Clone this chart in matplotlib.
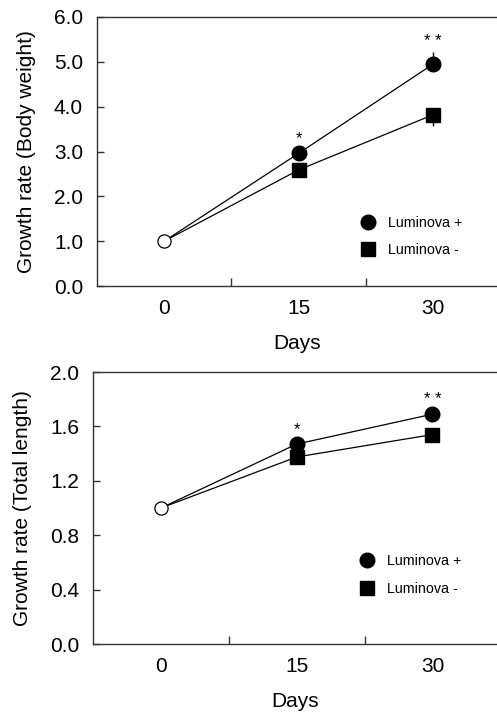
import matplotlib
matplotlib.use("Agg")
import matplotlib.pyplot as plt
from matplotlib.lines import Line2D

plt.rcParams['font.family'] = ['Liberation Sans', 'DejaVu Sans']

days = ["0", "15", "30"]

# Body weight growth rate
bw_lum_plus = [1.0, 2.96, 4.95]
bw_lum_minus = [1.0, 2.59, 3.82]
bw_plus_err_up = [0.0, 0.10, 0.28]
bw_minus_err_down = [0.0, 0.10, 0.26]
bw_stars = ["", "*", "**"]

# Total length growth rate
tl_lum_plus = [1.0, 1.47, 1.69]
tl_lum_minus = [1.0, 1.375, 1.54]
tl_plus_err_up = [0.0, 0.03, 0.03]
tl_minus_err_down = [0.0, 0.03, 0.03]
tl_stars = ["", "*", "**"]

W, H = 497, 712
fig = plt.figure(figsize=(W / 100, H / 100), dpi=100)

FS = 15


def make_panel(rect, plus, minus, up, down, stars, ylim, yticks, ylabel, star_off, leg_anchor, xpad, xlabpad):
    ax = fig.add_axes(rect)
    x = list(range(len(days)))
    ax.set_xlim(-0.5, 2.475)
    ax.set_ylim(*ylim)
    # error bars
    ax.errorbar(x[1:], plus[1:], yerr=[[0] * 2, up[1:]], fmt='none', ecolor='black', elinewidth=1, capsize=0, zorder=2)
    ax.errorbar(x[1:], minus[1:], yerr=[down[1:], [0] * 2], fmt='none', ecolor='black', elinewidth=1, capsize=0, zorder=2)
    # lines
    ax.plot(x, plus, color='black', lw=0.9, zorder=3)
    ax.plot(x, minus, color='black', lw=0.9, zorder=3)
    ax.plot(x[1:], plus[1:], 'o', color='black', ms=10.5, zorder=4)
    ax.plot(x[1:], minus[1:], 's', color='black', ms=10, zorder=4)
    ax.plot(x[0], plus[0], 'o', mfc='white', mec='black', mew=0.9, ms=9.5, zorder=5)
    for xi, yi, e, s in zip(x, plus, up, stars):
        if s:
            ax.text(xi, yi + e + star_off, " ".join(s) if len(s) > 1 else s,
                    ha='center', va='center', fontsize=12)
    # axes styling
    ax.spines['right'].set_visible(False)
    for side in ['left', 'bottom', 'top']:
        ax.spines[side].set_linewidth(1.0)
        ax.spines[side].set_color('#333333')
    ax.set_xticks(x)
    ax.set_xticklabels(days)
    ax.set_xticks([0.5, 1.5], minor=True)
    ax.tick_params(axis='x', which='major', length=0, pad=xpad, labelsize=FS)
    ax.tick_params(axis='x', which='minor', direction='in', length=6, width=1, color='#333333')
    ax.set_yticks(yticks)
    ax.set_yticklabels([f"{v:.1f}" for v in yticks])
    ax.tick_params(axis='y', which='major', direction='in', length=5, width=1, pad=10, labelsize=FS, color='#333333')
    ax.set_xlabel("Days", fontsize=FS, labelpad=xlabpad)
    ax.set_ylabel(ylabel, fontsize=FS, labelpad=13)
    handles = [Line2D([], [], marker='o', color='black', ls='none', ms=10.5),
               Line2D([], [], marker='s', color='black', ls='none', ms=10)]
    ax.legend(handles, ["Luminova +", "Luminova -"], loc='upper left', bbox_to_anchor=leg_anchor,
              frameon=False, fontsize=10.3, handlelength=1.0, handletextpad=0.9,
              labelspacing=0.95, borderpad=0, borderaxespad=0)
    return ax


make_panel([97 / W, 1 - 286 / H, 400 / W, 269 / H], bw_lum_plus, bw_lum_minus,
           bw_plus_err_up, bw_minus_err_down, bw_stars, (0, 6), [0, 1, 2, 3, 4, 5, 6],
           "Growth rate (Body weight)", 0.22, (0.66, 0.262), 9, 12)
make_panel([93 / W, 1 - 644 / H, 404 / W, 272 / H], tl_lum_plus, tl_lum_minus,
           tl_plus_err_up, tl_minus_err_down, tl_stars, (0, 2.0), [0.0, 0.4, 0.8, 1.2, 1.6, 2.0],
           "Growth rate (Total length)", 0.075, (0.66, 0.33), 9.5, 11.5)

fig.savefig("out.png", dpi=100)
